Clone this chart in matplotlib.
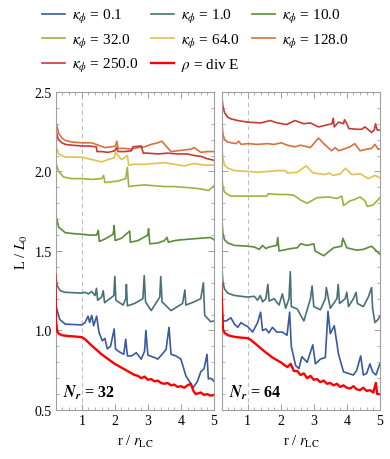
import matplotlib
matplotlib.use("Agg")
import matplotlib.pyplot as plt
from matplotlib.ticker import MultipleLocator

plt.rcParams["font.family"] = ["Liberation Serif", "DejaVu Serif"]
plt.rcParams["mathtext.fontset"] = "stix"

# ============================================
# Data
# ============================================

kappas = ["0.1", "1.0", "10.0", "32.0", "64.0", "128.0", "250.0"]
colors = ["#3a5aa0", "#4a7077", "#5b8c3a", "#9ab53c", "#e2c150", "#d9703e", "#c63a37"]
rho_color = "#ff0000"
panel_labels = ["32", "64"]

# ---- N_r = 32 ----
x_k01_32 = [0.2, 0.22, 0.33, 0.5, 1.0, 1.1, 1.19, 1.24, 1.3, 1.36, 1.45, 1.52, 1.62, 1.7, 1.77, 1.87,
            1.98, 2.02, 2.1, 2.27, 2.33, 2.38, 2.5, 2.65, 2.8, 2.9, 2.94, 3.0, 3.2, 3.3, 3.45, 3.55,
            3.64, 3.7, 3.85, 4.0, 4.15, 4.3, 4.37, 4.5, 4.6, 4.7, 4.79, 4.83, 4.9, 5.0]
y_k01_32 = [1.3, 1.155, 1.07, 1.04, 1.035, 1.05, 1.09, 1.05, 1.095, 1.03, 1.09, 0.99, 0.935, 0.95, 0.885, 0.9,
            1.01, 0.885, 0.87, 0.85, 0.945, 0.84, 0.84, 0.86, 0.82, 0.87, 1.0, 0.845, 0.83, 0.82, 0.855, 0.88,
            1.02, 0.85, 0.84, 0.82, 0.715, 0.665, 0.64, 0.68, 0.74, 0.76, 0.85, 0.695, 0.70, 0.68]

x_k1_32 = [0.2, 0.22, 0.26, 0.35, 0.5, 1.0, 1.1, 1.2, 1.3, 1.4, 1.445, 1.48, 1.6, 1.65, 1.69, 1.85, 1.97,
           2.0, 2.03, 2.25, 2.33, 2.35, 2.38, 2.6, 2.85, 2.89, 2.93, 3.1, 3.36, 3.39, 3.43, 3.7, 4.05, 4.12,
           4.15, 4.4, 4.6, 4.68, 4.72, 4.9, 5.0]
y_k1_32 = [1.45, 1.33, 1.28, 1.25, 1.24, 1.235, 1.24, 1.23, 1.245, 1.22, 1.265, 1.19, 1.21, 1.25, 1.175, 1.2, 1.22,
           1.34, 1.19, 1.16, 1.2, 1.29, 1.155, 1.17, 1.2, 1.345, 1.18, 1.125, 1.21, 1.34, 1.18, 1.125, 1.17, 1.255,
           1.16, 1.18, 1.2, 1.30, 1.095, 1.055, 1.06]

x_k10_32 = [0.2, 0.22, 0.3, 0.5, 0.7, 1.0, 1.25, 1.45, 1.5, 1.53, 1.7, 1.95, 1.98, 2.01, 2.2, 2.45, 2.47, 2.7,
            3.0, 3.02, 3.06, 3.3, 3.5, 3.58, 3.62, 3.8, 4.0, 4.3, 4.6, 4.9, 5.0]
y_k10_32 = [1.85, 1.72, 1.65, 1.615, 1.61, 1.605, 1.60, 1.60, 1.63, 1.56, 1.575, 1.605, 1.66, 1.565, 1.58, 1.625,
            1.555, 1.565, 1.60, 1.64, 1.545, 1.55, 1.565, 1.585, 1.555, 1.565, 1.57, 1.575, 1.58, 1.585, 1.57]

x_k32_32 = [0.2, 0.22, 0.3, 0.45, 0.7, 1.0, 1.3, 1.6, 1.66, 1.7, 1.9, 2.1, 2.33, 2.38, 2.42, 2.6, 2.9, 3.2,
            3.5, 3.8, 4.1, 4.4, 4.6, 4.84, 5.0]
y_k32_32 = [2.15, 2.05, 2.0, 1.965, 1.955, 1.955, 1.95, 1.955, 1.975, 1.93, 1.935, 1.94, 1.955, 2.025, 1.905,
            1.91, 1.915, 1.91, 1.905, 1.905, 1.9, 1.895, 1.89, 1.88, 1.91]

x_k64_32 = [0.2, 0.22, 0.3, 0.5, 1.0, 1.3, 1.6, 1.8, 1.98, 2.02, 2.2, 2.38, 2.42, 2.6, 2.9, 3.2, 3.5, 3.8,
            4.1, 4.4, 4.7, 5.0]
y_k64_32 = [2.3, 2.16, 2.11, 2.09, 2.09, 2.075, 2.06, 2.075, 2.085, 2.12, 2.075, 2.10, 2.04, 2.045, 2.045,
            2.05, 2.055, 2.045, 2.035, 2.05, 2.04, 2.04]

x_k128_32 = [0.2, 0.22, 0.3, 0.4, 0.5, 0.7, 1.0, 1.3, 1.5, 1.7, 1.9, 2.02, 2.06, 2.1, 2.3, 2.5, 2.7, 2.9,
             3.1, 3.3, 3.42, 3.55, 3.7, 3.9, 4.1, 4.3, 4.4, 4.6, 4.8, 5.0]
y_k128_32 = [2.45, 2.31, 2.24, 2.21, 2.195, 2.185, 2.18, 2.18, 2.165, 2.15, 2.155, 2.16, 2.19, 2.145, 2.145,
             2.14, 2.15, 2.155, 2.17, 2.18, 2.19, 2.16, 2.125, 2.13, 2.135, 2.14, 2.15, 2.12, 2.125, 2.125]

x_k250_32 = [0.2, 0.22, 0.26, 0.3, 0.4, 0.5, 0.7, 1.0, 1.2, 1.44, 1.46, 1.6, 1.8, 2.0, 2.05, 2.1, 2.3, 2.5,
             2.55, 2.8, 2.86, 3.0, 3.3, 3.6, 3.9, 4.2, 4.4, 4.6, 4.8, 4.9, 5.0]
y_k250_32 = [2.35, 2.26, 2.22, 2.2, 2.18, 2.17, 2.165, 2.16, 2.16, 2.155, 2.125, 2.125, 2.12, 2.13, 2.15,
             2.125, 2.125, 2.13, 2.155, 2.16, 2.115, 2.115, 2.11, 2.115, 2.11, 2.11, 2.1, 2.095, 2.08, 2.075, 2.07]

x_rho_32 = [0.2, 0.22, 0.25, 0.3, 0.4, 0.6, 0.8, 1.0, 1.1, 1.3, 1.6, 2.0, 2.3, 2.6, 2.7, 2.8, 2.9, 3.0,
            3.1, 3.2, 3.3, 3.4, 3.5, 3.6, 3.7, 3.8, 3.9, 4.0, 4.1, 4.2, 4.3, 4.38, 4.45, 4.6, 4.7, 4.8,
            4.9, 5.0]
y_rho_32 = [1.35, 1.06, 1.0, 0.98, 0.97, 0.965, 0.962, 0.958, 0.945, 0.905, 0.85, 0.79, 0.755, 0.72, 0.715,
            0.70, 0.71, 0.69, 0.695, 0.68, 0.685, 0.67, 0.665, 0.67, 0.655, 0.66, 0.645, 0.65, 0.64, 0.655,
            0.665, 0.62, 0.60, 0.61, 0.595, 0.60, 0.59, 0.595]

# ---- N_r = 64 ----
x_k01_64 = [0.2, 0.25, 0.35, 0.49, 0.6, 0.7, 0.8, 0.9, 1.0, 1.15, 1.3, 1.39, 1.45, 1.55, 1.64, 1.75, 1.88,
            2.05, 2.19, 2.27, 2.32, 2.45, 2.55, 2.64, 2.8, 2.97, 3.05, 3.2, 3.35, 3.43, 3.5, 3.62, 3.75, 3.9,
            4.05, 4.2, 4.3, 4.42, 4.5, 4.6, 4.7, 4.78, 4.88, 5.0]
y_k01_64 = [1.2, 1.06, 1.06, 1.08, 1.04, 1.02, 1.05, 1.035, 1.025, 0.99, 1.05, 1.115, 1.0, 1.01, 0.985, 1.02,
            0.99, 0.99, 0.97, 1.115, 0.90, 0.78, 0.76, 0.835, 0.80, 0.91, 0.79, 0.82, 0.83, 1.12, 0.98, 1.03,
            0.85, 0.74, 0.73, 0.72, 0.75, 0.84, 0.72, 0.73, 0.79, 0.74, 0.72, 0.79]

x_k1_64 = [0.2, 0.25, 0.3, 0.4, 0.6, 1.0, 1.2, 1.3, 1.38, 1.45, 1.55, 1.61, 1.65, 1.8, 1.95, 2.05, 2.15,
           2.25, 2.29, 2.32, 2.5, 2.7, 2.9, 2.95, 3.0, 3.2, 3.35, 3.38, 3.5, 3.7, 3.74, 3.78, 3.95, 4.0,
           4.05, 4.2, 4.28, 4.32, 4.5, 4.65, 4.75, 4.78, 4.85, 4.95, 5.0]
y_k1_64 = [1.45, 1.305, 1.26, 1.235, 1.22, 1.21, 1.215, 1.19, 1.22, 1.18, 1.20, 1.29, 1.185, 1.2, 1.16, 1.23,
           1.14, 1.2, 1.37, 1.15, 1.135, 1.06, 1.2, 1.28, 1.15, 1.13, 1.2, 1.27, 1.14, 1.2, 1.29, 1.17, 1.2,
           1.24, 1.15, 1.2, 1.24, 1.17, 1.15, 1.21, 1.27, 1.14, 1.05, 1.07, 1.09]

x_k10_64 = [0.2, 0.25, 0.3, 0.4, 0.6, 1.0, 1.2, 1.35, 1.45, 1.55, 1.65, 1.88, 1.91, 1.95, 2.3, 2.5, 2.6,
            2.8, 3.0, 3.04, 3.3, 3.6, 3.84, 3.88, 4.0, 4.3, 4.5, 4.75, 5.0]
y_k10_64 = [1.75, 1.61, 1.57, 1.55, 1.535, 1.53, 1.525, 1.51, 1.535, 1.515, 1.525, 1.535, 1.585, 1.50, 1.515,
            1.52, 1.545, 1.535, 1.545, 1.50, 1.47, 1.52, 1.53, 1.58, 1.52, 1.505, 1.51, 1.53, 1.48]

x_k32_64 = [0.2, 0.25, 0.3, 0.4, 0.5, 1.0, 1.3, 1.58, 1.62, 1.9, 2.2, 2.4, 2.6, 2.8, 3.1, 3.44, 3.7, 3.85,
            3.9, 4.1, 4.25, 4.4, 4.55, 4.62, 4.8, 5.0]
y_k32_64 = [2.0, 1.90, 1.87, 1.855, 1.845, 1.845, 1.845, 1.845, 1.86, 1.855, 1.855, 1.85, 1.82, 1.80, 1.835,
            1.84, 1.83, 1.845, 1.785, 1.815, 1.825, 1.84, 1.815, 1.78, 1.79, 1.835]

x_k64_64 = [0.2, 0.25, 0.3, 0.4, 0.6, 1.0, 1.3, 1.6, 1.9, 2.15, 2.2, 2.5, 2.77, 2.98, 3.2, 3.33, 3.45, 3.6,
            3.8, 3.96, 4.15, 4.4, 4.65, 4.85, 5.0]
y_k64_64 = [2.2, 2.08, 2.04, 2.02, 2.005, 2.0, 1.995, 2.0, 2.005, 2.005, 1.99, 1.995, 2.035, 1.99, 1.985,
            1.98, 1.99, 1.975, 1.985, 2.02, 1.98, 1.985, 1.955, 1.975, 1.96]

x_k128_64 = [0.2, 0.25, 0.3, 0.4, 0.5, 0.65, 0.73, 0.8, 1.0, 1.3, 1.6, 1.8, 2.02, 2.2, 2.43, 2.6, 2.9, 3.14,
             3.3, 3.54, 3.65, 3.75, 3.9, 4.1, 4.24, 4.4, 4.6, 4.75, 4.85, 4.95, 5.0]
y_k128_64 = [2.35, 2.235, 2.2, 2.185, 2.18, 2.175, 2.19, 2.17, 2.175, 2.17, 2.175, 2.17, 2.18, 2.165, 2.155,
             2.165, 2.15, 2.21, 2.175, 2.13, 2.15, 2.13, 2.14, 2.155, 2.175, 2.13, 2.14, 2.145, 2.17, 2.14, 2.14]

x_k250_64 = [0.2, 0.25, 0.3, 0.4, 0.5, 0.7, 1.0, 1.4, 1.68, 1.9, 2.18, 2.43, 2.7, 2.9, 3.14, 3.35, 3.55,
             3.59, 3.62, 3.75, 3.9, 3.93, 4.0, 4.06, 4.3, 4.45, 4.55, 4.75, 4.83, 4.87, 4.92, 5.0]
y_k250_64 = [2.5, 2.41, 2.37, 2.34, 2.33, 2.32, 2.31, 2.305, 2.32, 2.305, 2.295, 2.32, 2.30, 2.305, 2.28, 2.29,
             2.30, 2.335, 2.28, 2.31, 2.30, 2.325, 2.30, 2.27, 2.265, 2.265, 2.28, 2.245, 2.26, 2.30, 2.26, 2.26]

x_rho_64 = [0.2, 0.25, 0.3, 0.4, 0.6, 0.8, 1.0, 1.1, 1.3, 1.5, 1.75, 2.0, 2.2, 2.3, 2.4, 2.5, 2.6, 2.7,
            2.8, 2.9, 3.0, 3.1, 3.2, 3.3, 3.4, 3.5, 3.6, 3.7, 3.8, 3.9, 4.0, 4.1, 4.2, 4.3, 4.4, 4.5, 4.6,
            4.7, 4.8, 4.88, 4.92, 5.0]
y_rho_64 = [1.3, 1.01, 0.985, 0.97, 0.96, 0.955, 0.952, 0.94, 0.905, 0.87, 0.83, 0.80, 0.77, 0.79, 0.745,
            0.745, 0.72, 0.73, 0.70, 0.715, 0.69, 0.695, 0.675, 0.685, 0.665, 0.67, 0.655, 0.665, 0.645,
            0.655, 0.64, 0.635, 0.65, 0.63, 0.625, 0.64, 0.62, 0.625, 0.61, 0.67, 0.60, 0.60]

panels = [
    [(x_k01_32, y_k01_32), (x_k1_32, y_k1_32), (x_k10_32, y_k10_32), (x_k32_32, y_k32_32),
     (x_k64_32, y_k64_32), (x_k128_32, y_k128_32), (x_k250_32, y_k250_32), (x_rho_32, y_rho_32)],
    [(x_k01_64, y_k01_64), (x_k1_64, y_k1_64), (x_k10_64, y_k10_64), (x_k32_64, y_k32_64),
     (x_k64_64, y_k64_64), (x_k128_64, y_k128_64), (x_k250_64, y_k250_64), (x_rho_64, y_rho_64)],
]


# ============================================
# Plot
# ============================================

fig = plt.figure(figsize=(3.9, 4.6), dpi=100)

ax_left = fig.add_axes([0.1436, 0.1065, 0.405, 0.6915])
ax_right = fig.add_axes([0.569, 0.1065, 0.405, 0.6915])

frame = "#a0a0a0"
handles = []

for i, ax in enumerate([ax_left, ax_right]):

    ax.axvline(1.0, color="#c0c0c0", lw=0.8, ls=(0, (4, 3)), zorder=1)

    curves = panels[i]
    for j in range(7):
        x, y = curves[j]
        line, = ax.plot(x, y, color=colors[j], lw=1.2, zorder=2,
                        label=r"$\kappa_\phi$ = " + kappas[j])
        if i == 0:
            handles.append(line)

    x, y = curves[7]
    line, = ax.plot(x, y, color=rho_color, lw=1.7, zorder=3, label=r"$\rho$ = div E")
    if i == 0:
        handles.append(line)

    ax.set_xlim(0.22, 5.0)
    ax.set_ylim(0.5, 2.5)

    ax.xaxis.set_major_locator(MultipleLocator(1))
    ax.xaxis.set_minor_locator(MultipleLocator(0.2))
    ax.yaxis.set_major_locator(MultipleLocator(0.5))
    ax.yaxis.set_minor_locator(MultipleLocator(0.1))

    ax.tick_params(which="both", direction="in", top=True, right=True,
                   color=frame, labelsize=10, pad=3)
    ax.tick_params(which="major", length=4, width=0.7)
    ax.tick_params(which="minor", length=2, width=0.6)

    for s in ax.spines.values():
        s.set_color(frame)
        s.set_linewidth(0.8)

    ax.set_xlabel(r"r / $r_{\rm LC}$", fontsize=10.5, labelpad=4)

    ax.text(0.42, 0.615, r"$\mathbfit{N_r}$ = " + panel_labels[i],
            fontsize=11.5, fontweight="bold", va="center", ha="left")

ax_left.set_ylabel(r"L / $L_0$", fontsize=10.5, labelpad=3)
ax_right.tick_params(labelleft=False)

# legend is row-major in the reference, matplotlib fills column-major
order = [0, 3, 6, 1, 4, 7, 2, 5]
fig.legend([handles[k] for k in order], [handles[k].get_label() for k in order],
           loc="upper center", bbox_to_anchor=(0.5, 1.012), ncol=3, frameon=False,
           fontsize=11, handlelength=1.5, handletextpad=0.45, columnspacing=0.85,
           labelspacing=0.42)

plt.savefig("out.png", dpi=100)
plt.close()
